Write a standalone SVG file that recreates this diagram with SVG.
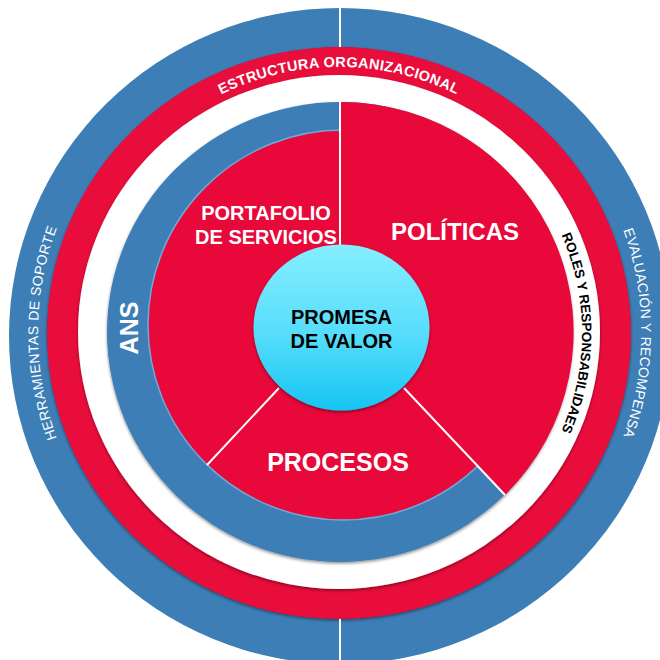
<svg xmlns="http://www.w3.org/2000/svg" xmlns:xlink="http://www.w3.org/1999/xlink" width="660" height="660" viewBox="0 0 660 660">
  <style>
    .blue { fill: #3D7EB6; }
    .red { fill: #E8083A; }
    .white { fill: #FFFFFF; }
    .sh { filter: url(#shadow); }
    .div { stroke: #FFFFFF; stroke-width: 2; fill: none; }
    .t { font-family: "Liberation Sans", Arial, sans-serif; }
    .arcw { fill: #FFFFFF; font-size: 14px; }
    .big { fill: #FFFFFF; font-weight: bold; text-anchor: middle; }
    .ctr { fill: #000000; font-weight: bold; font-size: 20px; text-anchor: middle; }
  </style>
  <defs>
    <filter id="shadow" x="-10%" y="-10%" width="120%" height="120%">
      <feDropShadow dx="0" dy="1.5" stdDeviation="1.5" flood-color="#000000" flood-opacity="0.45"/>
    </filter>
    <linearGradient id="cyan" x1="0" y1="0" x2="0" y2="1">
      <stop offset="0" stop-color="#86EEFF"/>
      <stop offset="0.55" stop-color="#55DDFB"/>
      <stop offset="1" stop-color="#16C4F3"/>
    </linearGradient>
    <path id="pEstr" d="M 168 129.2 A 266 266 0 0 1 510 129.2"/>
    <path id="pHerr" d="M 108.6 527.1 A 302 302 0 0 1 108.6 138.9"/>
    <path id="pEval" d="M 570 137.4 A 304 304 0 0 1 570 528.6"/>
    <path id="pRoles" d="M 525.4 177.4 A 242 242 0 0 1 525.4 488.6"/>
  </defs>

  <g id="herramientas-evaluacion">
    <ellipse class="blue" cx="340" cy="336" rx="331" ry="328"/>
  </g>

  <g id="estructura-organizacional">
    <ellipse class="red sh" cx="339" cy="333" rx="292" ry="286"/>
  </g>

  <g id="roles-responsabilidades">
    <ellipse class="white sh" cx="339" cy="332" rx="261" ry="257"/>
  </g>

  <g id="ans">
    <ellipse class="blue sh" cx="340" cy="332" rx="233" ry="230"/>
  </g>

  <g id="portafolio-procesos">
    <circle class="red" cx="343" cy="325" r="195" stroke="#6FA8DA" stroke-width="1.5"/>
  </g>

  <g id="politicas">
    <path class="red" d="M 340 102 A 233 230 0 0 1 505 495 L 351 332 L 340 332 Z"/>
  </g>

  <g id="connectors">
    <line class="div" x1="340" y1="8" x2="340" y2="47"/>
    <line class="div" x1="340" y1="619" x2="340" y2="660"/>
    <line class="div" x1="340" y1="102" x2="340" y2="248"/>
    <line class="div" x1="404" y1="388" x2="505" y2="495"/>
    <line class="div" x1="279" y1="388" x2="207" y2="465"/>
  </g>

  <g id="promesa-de-valor">
    <ellipse class="sh" fill="url(#cyan)" cx="341.5" cy="327.5" rx="88" ry="83"/>
    <text class="t ctr" x="341.5" y="324">PROMESA</text>
    <text class="t ctr" x="341.5" y="348">DE VALOR</text>
  </g>

  <g id="labels">
    <text class="t" fill="#FFFFFF" font-size="14.5" font-weight="bold" letter-spacing="0.3">
      <textPath xlink:href="#pEstr" href="#pEstr" startOffset="50%" text-anchor="middle">ESTRUCTURA ORGANIZACIONAL</textPath>
    </text>
    <text class="t arcw" letter-spacing="0.4">
      <textPath xlink:href="#pHerr" href="#pHerr" startOffset="50%" text-anchor="middle">HERRAMIENTAS DE SOPORTE</textPath>
    </text>
    <text class="t arcw" letter-spacing="0.2">
      <textPath xlink:href="#pEval" href="#pEval" startOffset="50%" text-anchor="middle">EVALUACIÓN Y RECOMPENSA</textPath>
    </text>
    <text class="t" fill="#000000" font-size="13.5" font-weight="bold">
      <textPath xlink:href="#pRoles" href="#pRoles" startOffset="50%" text-anchor="middle">ROLES Y RESPONSABILIDAES</textPath>
    </text>
    <text class="t big" font-size="25" x="138" y="328" transform="rotate(-90 138 328)">ANS</text>
    <text class="t big" font-size="20" x="266" y="220">PORTAFOLIO</text>
    <text class="t big" font-size="20" x="266" y="244">DE SERVICIOS</text>
    <text class="t big" font-size="24" x="455" y="240">POLÍTICAS</text>
    <text class="t big" font-size="25" x="338" y="471">PROCESOS</text>
  </g>
</svg>
